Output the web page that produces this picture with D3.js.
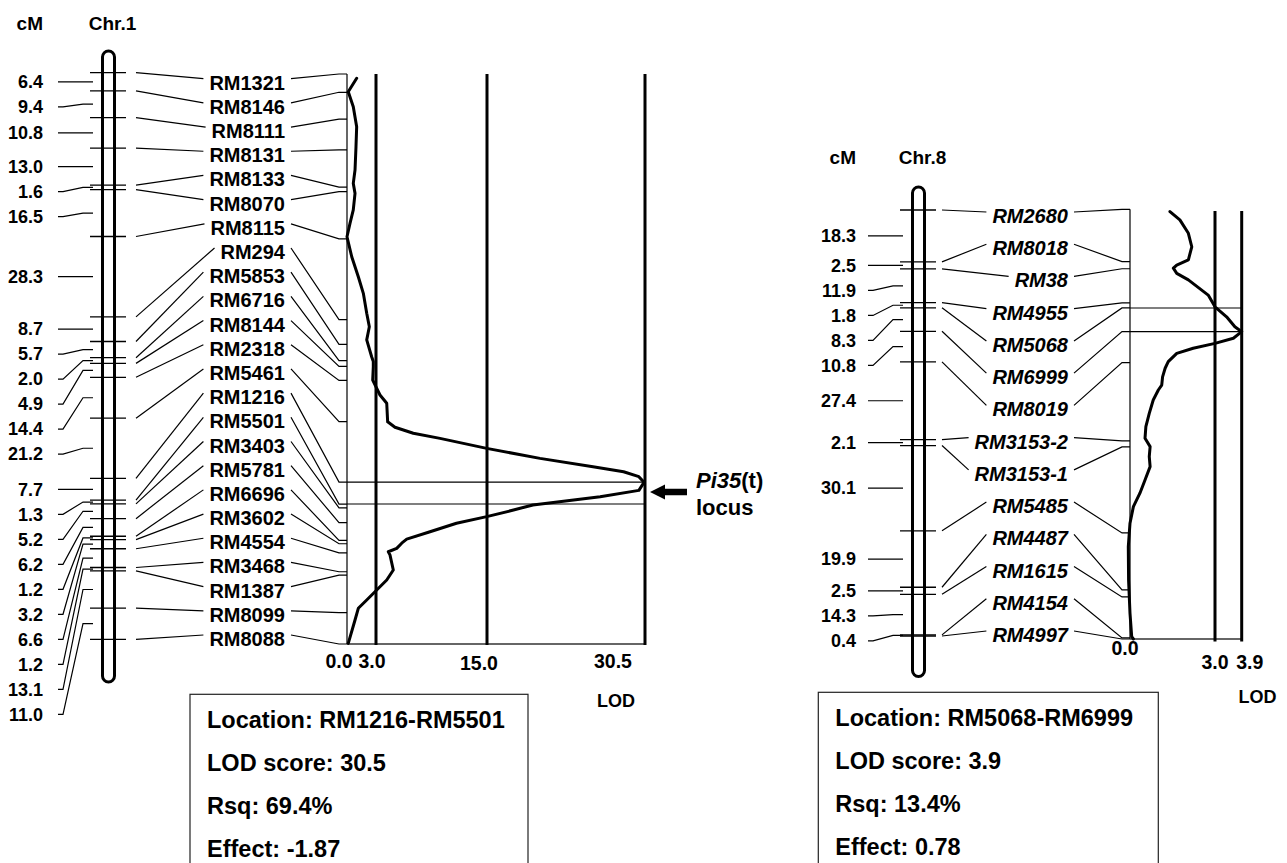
<!DOCTYPE html>
<html><head><meta charset="utf-8">
<script src="https://cdn.jsdelivr.net/npm/d3@7"></script>
<style>
body{margin:0;background:#fff}
svg{display:block}
text{font-family:"Liberation Sans",Arial,Helvetica,sans-serif;font-weight:bold;fill:#000}
</style></head><body>
<svg id="chart" width="1287" height="863"></svg>
<script>
// ---------- Chromosome 1 data ----------
const chr1Name = "Chr.1";
const chr1Markers = ["RM1321","RM8146","RM8111","RM8131","RM8133","RM8070","RM8115","RM294","RM5853","RM6716","RM8144","RM2318","RM5461","RM1216","RM5501","RM3403","RM5781","RM6696","RM3602","RM4554","RM3468","RM1387","RM8099","RM8088"];
const chr1Intervals = [6.4,9.4,10.8,13.0,1.6,16.5,28.3,8.7,5.7,2.0,4.9,14.4,21.2,7.7,1.3,5.2,6.2,1.2,3.2,6.6,1.2,13.1,11.0];
const chr1LodCM = [1.5,6.2,11.5,18.5,25.5,33.6,38.3,41.8,47.6,52.3,57.0,64.0,71.0,76.8,83.8,88.5,93.1,99.0,100.7,102.5,107.2,112.4,115.3,121.8,123.7,125.8,127.6,131.1,134.6,137.5,139.3,141.0,143.0,145.8,148.0,150.9,152.7,155.0,157.3,160.3,162.9,164.3,166.1,167.3,168.4,173.7,177.2,180.7,184.2,187.1,191.2,199.4];
const chr1LodValues = [1.0,0.13,0.65,1.0,0.93,0.83,0.65,0.83,0.65,0.31,0.0,0.49,1.17,1.69,2.04,2.31,2.04,2.55,2.72,2.72,2.66,3.43,4.16,4.26,5.05,7.03,9.92,14.97,20.2,25.4,28.4,29.9,30.4,29.9,26.1,19.5,17.6,14.97,11.7,8.84,6.32,5.78,5.24,4.33,4.51,4.87,4.16,3.08,2.04,1.17,0.83,0.13];
const chr1LodTicks = [0.0,3.0,15.0,30.5];
const chr1TickLabels = ["0.0","3.0","15.0","30.5"];
const chr1QtlInterval = ["RM1216","RM5501"];
const chr1Summary = ["Location: RM1216-RM5501","LOD score: 30.5","Rsq: 69.4%","Effect: -1.87"];

// ---------- Chromosome 8 data ----------
const chr8Name = "Chr.8";
const chr8Markers = ["RM2680","RM8018","RM38","RM4955","RM5068","RM6999","RM8019","RM3153-2","RM3153-1","RM5485","RM4487","RM1615","RM4154","RM4997"];
const chr8Intervals = [18.3,2.5,11.9,1.8,8.3,10.8,27.4,2.1,30.1,19.9,2.5,14.3,0.4];
const chr8LodCM = [0.8,3.7,8.4,13.1,17.7,19.5,20.6,22.4,24.7,30.0,34.1,37.6,41.1,42.8,45.1,46.9,48.6,50.4,53.3,55.6,58.6,61.5,63.2,66.7,71.4,76.0,80.1,83.0,86.5,90.0,94.7,99.3,104.0,109.8,118.0,129.7,141.3,149.5,150.3];
const chr8LodValues = [1.41,1.76,2.06,2.18,2.06,1.65,1.53,1.65,2.06,2.76,3.0,3.39,3.67,3.9,3.62,3.0,2.23,1.65,1.35,1.24,1.15,1.12,1.0,0.82,0.68,0.56,0.53,0.71,0.68,0.71,0.53,0.35,0.12,0.0,-0.06,-0.05,0.0,0.06,0.12];
const chr8LodTicks = [0.0,3.0,3.9];
const chr8TickLabels = ["0.0","3.0","3.9"];
const chr8QtlInterval = ["RM5068","RM6999"];
const chr8Summary = ["Location: RM5068-RM6999","LOD score: 3.9","Rsq: 13.4%","Effect: 0.78"];

const svg = d3.select("#chart");

function drawPanel(cfg, name, markers, intervals, lodCM, lodVals, ticks, tickLabels, qtl, summary) {
  const cum = [0];
  intervals.forEach(v => cum.push(Math.round((cum[cum.length - 1] + v) * 10) / 10));
  const total = cum[cum.length - 1];
  const yChr = d3.scaleLinear().domain([0, total]).range(cfg.chrRange);
  const yLod = d3.scaleLinear().domain([0, total]).range(cfg.lodRange);
  const xLod = d3.scaleLinear().domain(ticks).range(cfg.lodXRange);
  const yLabel = d3.scaleLinear().domain([0, markers.length - 1]).range(cfg.labelRange);
  const g = svg.append("g");

  // headers
  g.append("text").attr("x", cfg.cmLabelX).attr("y", cfg.headerY).attr("dy", "0.35em")
    .attr("text-anchor", "end").style("font-size", "19px").text("cM");
  g.append("text").attr("x", cfg.chrX + 4).attr("y", cfg.headerY).attr("dy", "0.35em")
    .attr("text-anchor", "middle").style("font-size", "19px").text(name);

  // chromosome body
  g.append("rect").attr("x", cfg.chrX - cfg.chrW / 2).attr("y", cfg.chrTop)
    .attr("width", cfg.chrW).attr("height", cfg.chrBottom - cfg.chrTop)
    .attr("rx", cfg.chrW / 2).attr("ry", cfg.chrW / 2)
    .attr("fill", "#fff").attr("stroke", "#000").attr("stroke-width", 3);

  // marker ticks on chromosome
  g.selectAll(".mtick").data(cum).join("line")
    .attr("x1", cfg.tickX[0]).attr("x2", cfg.tickX[1])
    .attr("y1", d => yChr(d)).attr("y2", d => yChr(d))
    .attr("stroke", "#000").attr("stroke-width", 1.3);

  // cM interval labels (spread apart, min 25px)
  let prev = -Infinity;
  const cmPos = intervals.map((v, i) => {
    const mid = (yChr(cum[i]) + yChr(cum[i + 1])) / 2;
    const y = Math.max(mid, prev + 25);
    prev = y;
    return { v, mid, y };
  });
  const lx = cfg.cmLineX;
  g.selectAll(".cmline").data(cmPos).join("path")
    .attr("d", d => d3.line()([[lx[0], d.y], [lx[1], d.y], [lx[2], d.mid], [lx[3], d.mid]]))
    .attr("fill", "none").attr("stroke", "#000").attr("stroke-width", 1.2);
  g.selectAll(".cmlab").data(cmPos).join("text")
    .attr("x", cfg.cmLabelX).attr("y", d => d.y).attr("dy", "0.35em")
    .attr("text-anchor", "end").style("font-size", "18px").text(d => d.v.toFixed(1));

  // marker labels
  const widths = [];
  const labs = g.selectAll(".mk").data(markers).join("text")
    .attr("x", cfg.labelRight).attr("y", (d, i) => yLabel(i)).attr("dy", "0.35em")
    .attr("text-anchor", "end").style("font-size", "20px")
    .style("font-style", cfg.italic ? "italic" : "normal").text(d => d);
  labs.each(function (d, i) { widths[i] = this.getComputedTextLength(); });

  // left connectors
  g.selectAll(".lconn").data(markers).join("line")
    .attr("x1", cfg.leftConnStart).attr("y1", (d, i) => yChr(cum[i]))
    .attr("x2", (d, i) => cfg.labelRight - widths[i] - 6).attr("y2", (d, i) => yLabel(i) - 4)
    .attr("stroke", "#000").attr("stroke-width", 1.2);
  // right connectors
  g.selectAll(".rconn").data(markers).join("path")
    .attr("d", (d, i) => d3.line()([[cfg.labelRight + 6, yLabel(i) - 4], [cfg.bendX, yLod(cum[i])], [cfg.axisX, yLod(cum[i])]]))
    .attr("fill", "none").attr("stroke", "#000").attr("stroke-width", 1.2);

  // LOD axis
  const xMax = xLod(ticks[ticks.length - 1]);
  g.append("line").attr("x1", cfg.axisX).attr("x2", cfg.axisX)
    .attr("y1", yLod(0)).attr("y2", yLod(total)).attr("stroke", "#000").attr("stroke-width", 1.2);
  g.append("line").attr("x1", cfg.axisX).attr("x2", xMax)
    .attr("y1", yLod(total)).attr("y2", yLod(total)).attr("stroke", "#333").attr("stroke-width", 1.4);

  // QTL interval lines
  g.selectAll(".qtl").data(qtl).join("line")
    .attr("x1", cfg.axisX).attr("x2", xMax)
    .attr("y1", d => yLod(cum[markers.indexOf(d)])).attr("y2", d => yLod(cum[markers.indexOf(d)]))
    .attr("stroke", "#000").attr("stroke-width", 1.1);

  // threshold lines
  g.selectAll(".thr").data(ticks.slice(1)).join("line")
    .attr("x1", d => xLod(d)).attr("x2", d => xLod(d))
    .attr("y1", cfg.threshTop).attr("y2", cfg.threshBottom)
    .attr("stroke", "#000").attr("stroke-width", 3);

  // LOD curve
  const pts = lodCM.map((c, i) => [xLod(lodVals[i]), yLod(c)]);
  g.append("path").attr("d", d3.line()(pts))
    .attr("fill", "none").attr("stroke", "#000").attr("stroke-width", 3)
    .attr("stroke-linejoin", "round").attr("stroke-linecap", "round");

  // tick labels
  g.selectAll(".tl").data(tickLabels).join("text")
    .attr("x", (d, i) => xLod(ticks[i]) + cfg.tickDx[i]).attr("y", (d, i) => cfg.tickY[i])
    .attr("dy", "0.35em").attr("text-anchor", "middle").style("font-size", "19.5px").text(d => d);
  g.append("text").attr("x", cfg.lodTitle[0]).attr("y", cfg.lodTitle[1]).attr("dy", "0.35em")
    .attr("text-anchor", "middle").style("font-size", "18px").text("LOD");

  // summary box
  g.append("rect").attr("x", cfg.box[0]).attr("y", cfg.box[1]).attr("width", cfg.box[2]).attr("height", 220)
    .attr("fill", "none").attr("stroke", "#222").attr("stroke-width", 1.2);
  g.selectAll(".sum").data(summary).join("text")
    .attr("x", cfg.box[0] + 17).attr("y", (d, i) => cfg.box[1] + 25 + i * 43.2).attr("dy", "0.35em")
    .style("font-size", "23.5px").text(d => d);
  return { xLod, yLod, cum };
}

const p1 = drawPanel({
  chrX: 108.5, chrW: 12, chrTop: 51, chrBottom: 682, chrRange: [72.7, 639.3],
  cmLabelX: 43, cmLineX: [58, 63, 83, 93], tickX: [90, 126], headerY: 23,
  leftConnStart: 136, labelRight: 285, labelRange: [82.7, 639], bendX: 339, axisX: 347,
  lodRange: [74, 644], lodXRange: [347, 376, 487, 645], threshTop: 74, threshBottom: 645,
  italic: false, tickDx: [-8, -4, -8, -32], tickY: [661.5, 661.5, 663, 661],
  lodTitle: [616, 701], box: [190, 694.3, 338]
}, chr1Name, chr1Markers, chr1Intervals, chr1LodCM, chr1LodValues, chr1LodTicks, chr1TickLabels, chr1QtlInterval, chr1Summary);

const p8 = drawPanel({
  chrX: 918.5, chrW: 12, chrTop: 187, chrBottom: 676.5, chrRange: [210, 636],
  cmLabelX: 856, cmLineX: [868, 873, 893, 903], tickX: [900, 936], headerY: 157,
  leftConnStart: 942, labelRight: 1068, labelRange: [216, 635], bendX: 1122, axisX: 1130,
  lodRange: [209.3, 639], lodXRange: [1130, 1215, 1241.7], threshTop: 211, threshBottom: 641.5,
  italic: true, tickDx: [-5, 0, 8], tickY: [648, 662.5, 662.5],
  lodTitle: [1257.5, 697], box: [818.3, 692.3, 340]
}, chr8Name, chr8Markers, chr8Intervals, chr8LodCM, chr8LodValues, chr8LodTicks, chr8TickLabels, chr8QtlInterval, chr8Summary);

// Pi35(t) locus arrow (chr.1 peak)
const peakY = 492;
const tipX = 650;
svg.append("path")
  .attr("d", d3.line()([[tipX, peakY], [tipX + 15, peakY - 7.5], [tipX + 15, peakY - 3.3], [tipX + 37, peakY - 3.3],
    [tipX + 37, peakY + 3.3], [tipX + 15, peakY + 3.3], [tipX + 15, peakY + 7.5]]) + "Z")
  .attr("fill", "#000");
const lab = svg.append("text").attr("x", 696).attr("y", 480).attr("dy", "0.35em").style("font-size", "22px");
lab.append("tspan").style("font-style", "italic").text("Pi35");
lab.append("tspan").text("(t)");
svg.append("text").attr("x", 696).attr("y", 507).attr("dy", "0.35em").style("font-size", "22px").text("locus");
</script>
</body></html>
